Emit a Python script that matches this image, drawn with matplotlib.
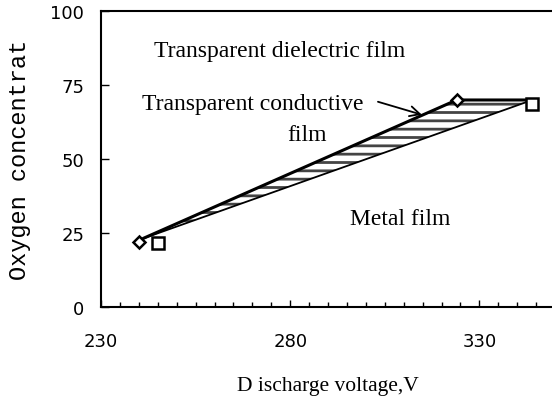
import numpy as np
import matplotlib.pyplot as plt
from matplotlib.ticker import MultipleLocator

# measured points
diamond_v = [240, 324]
diamond_o = [22, 70]
square_v = [245, 344]
square_o = [21.5, 68.5]

# boundaries of the transparent conductive film region
upper_v = [241, 324, 344]
upper_o = [23, 70, 70]
lower_v = [241, 344]
lower_o = [23, 70]

xticks = [230, 280, 330]
yticks = [0, 25, 50, 75, 100]

plt.rcParams['hatch.linewidth'] = 2.0
plt.rcParams['hatch.color'] = '#444444'

fig = plt.figure(figsize=(5.52, 4.02), dpi=100)
ax = fig.add_axes([0.183, 0.235, 0.8225, 0.734])

# hatched region between the two boundaries
lower_on_upper = np.interp(upper_v, lower_v, lower_o)
ax.fill_between(upper_v, lower_on_upper, upper_o, facecolor='white',
                edgecolor='#444444', hatch='--', linewidth=0)
ax.plot(upper_v, upper_o, color='black', linewidth=2.2, solid_capstyle='butt')
ax.plot(lower_v, lower_o, color='black', linewidth=1.3)

ax.plot(diamond_v, diamond_o, linestyle='none', marker='D', markersize=6.5,
        markerfacecolor='white', markeredgecolor='black', markeredgewidth=1.8,
        zorder=5)
ax.plot(square_v, square_o, linestyle='none', marker='s', markersize=8,
        markerfacecolor='white', markeredgecolor='black', markeredgewidth=1.8,
        zorder=5)

serif = 'Liberation Serif'
ax.text(277.3, 85, 'Transparent dielectric film', family=serif, fontsize=17,
        ha='center', va='baseline')
ax.text(270, 67, 'Transparent conductive', family=serif, fontsize=17,
        ha='center', va='baseline')
ax.text(284.5, 56.5, 'film', family=serif, fontsize=17,
        ha='center', va='baseline')
ax.text(309, 28, 'Metal film', family=serif, fontsize=17,
        ha='center', va='baseline')
ax.annotate('', xy=(314.8, 65), xytext=(303.2, 69.4),
            arrowprops=dict(arrowstyle='->', color='black', lw=1.3,
                            mutation_scale=18, shrinkA=0, shrinkB=0))

ax.set_xlim(230, 350)
ax.set_ylim(0, 100)
ax.set_xticks(xticks)
ax.set_yticks(yticks)
ax.xaxis.set_minor_locator(MultipleLocator(5))
ax.tick_params(axis='both', which='both', direction='in', width=1,
               labelsize=13, colors='black')
ax.tick_params(axis='x', which='major', length=5, pad=18)
ax.tick_params(axis='x', which='minor', length=3.5)
ax.tick_params(axis='y', which='major', length=6, pad=12)
ax.tick_params(right=False, top=False)

for side in ['left', 'bottom', 'top']:
    ax.spines[side].set_linewidth(1.5)
ax.spines['right'].set_visible(False)

ax.set_ylabel('Oxygen concentrat', family='Liberation Mono', fontsize=17,
              labelpad=14)
ax.set_xlabel('D ischarge voltage,V', family=serif, fontsize=15.5,
              labelpad=19)

fig.savefig('out.png', dpi=100)
